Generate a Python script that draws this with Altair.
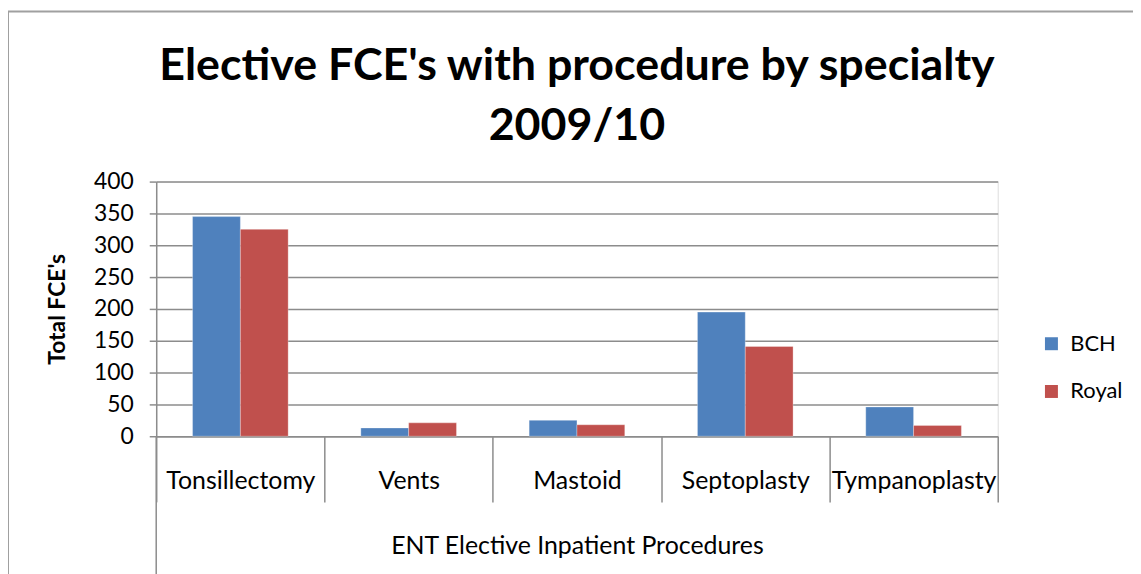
import altair as alt
import pandas as pd

procedures = ["Tonsillectomy", "Vents", "Mastoid", "Septoplasty", "Tympanoplasty"]
bch = [345, 13, 25, 195, 46]
royal = [325, 21, 18, 141, 17]
series = ["BCH", "Royal"]
colors = ["#4F81BD", "#C0504D"]

rows = []
for p, b, r in zip(procedures, bch, royal):
    rows.append({"Procedure": p, "Site": "BCH", "FCE": b})
    rows.append({"Procedure": p, "Site": "Royal", "FCE": r})
df = pd.DataFrame(rows)

FONT = "Lato"
GRID = "#8C8C8C"
W, H = 846, 256

bars = alt.Chart(df).mark_bar(stroke="white", strokeWidth=0.6, strokeOpacity=0.5).encode(
    x=alt.X(
        "Procedure:N",
        sort=procedures,
        scale=alt.Scale(paddingInner=0, paddingOuter=0),
        axis=alt.Axis(
            title="ENT Elective Inpatient Procedures",
            titleFont=FONT, titleFontSize=25, titleFontWeight="normal", titleColor="black",
            titlePadding=31,
            labelFont=FONT, labelFontSize=25, labelColor="black", labelPadding=-33,
            labelAngle=0,
            tickBand="extent", tickSize=66, tickColor=GRID, tickWidth=1.5,
            domainColor=GRID, domainWidth=1.5,
        ),
    ),
    xOffset=alt.XOffset("Site:N", sort=series, scale=alt.Scale(paddingOuter=0.76, paddingInner=0)),
    y=alt.Y(
        "FCE:Q",
        scale=alt.Scale(domain=[0, 400], nice=False),
        axis=alt.Axis(
            title="Total FCE's",
            titleFont=FONT, titleFontSize=23, titleFontWeight="bold", titleColor="black",
            titlePadding=24,
            values=[0, 50, 100, 150, 200, 250, 300, 350, 400],
            labelFont=FONT, labelFontSize=23, labelColor="black", labelPadding=16,
            tickSize=7, tickColor=GRID, tickWidth=1.5,
            gridColor=GRID, gridWidth=1.5,
            domainColor=GRID, domainWidth=1.5,
        ),
    ),
    color=alt.Color(
        "Site:N",
        sort=series,
        scale=alt.Scale(domain=series, range=colors),
        legend=alt.Legend(
            title=None, orient="none", legendX=889, legendY=152,
            symbolType="square", symbolSize=170, symbolStrokeWidth=0,
            labelFont=FONT, labelFontSize=22, labelColor="black",
            rowPadding=26, labelOffset=8,
        ),
    ),
)

one = pd.DataFrame({"a": [0]})
left_ext = alt.Chart(one).mark_rule(color=GRID, strokeWidth=1.5).encode(
    x=alt.value(0), y=alt.value(H), y2=alt.value(H + 150)
)
frame_left = alt.Chart(one).mark_rule(color="#A0A0A0", strokeWidth=2).encode(
    x=alt.value(-149), y=alt.value(-171), y2=alt.value(H + 150)
)
frame_top = alt.Chart(one).mark_rule(color="#A0A0A0", strokeWidth=2).encode(
    x=alt.value(-149), x2=alt.value(W + 200), y=alt.value(-171)
)

chart = alt.layer(frame_left, frame_top, left_ext, bars).properties(
    width=W,
    height=H,
    autosize=alt.AutoSizeParams(type="none"),
    padding={"left": 149, "top": 173, "right": 136, "bottom": 140},
    title=alt.TitleParams(
        ["Elective FCE's with procedure by specialty", "2009/10"],
        font=FONT, fontSize=45, fontWeight="bold", color="black",
        anchor="middle", frame="group", lineHeight=60, offset=18, dy=157,
    ),
).configure_view(stroke=None).configure(background="white")

chart.save("out.html", embed_options={"renderer": "svg", "actions": False})
